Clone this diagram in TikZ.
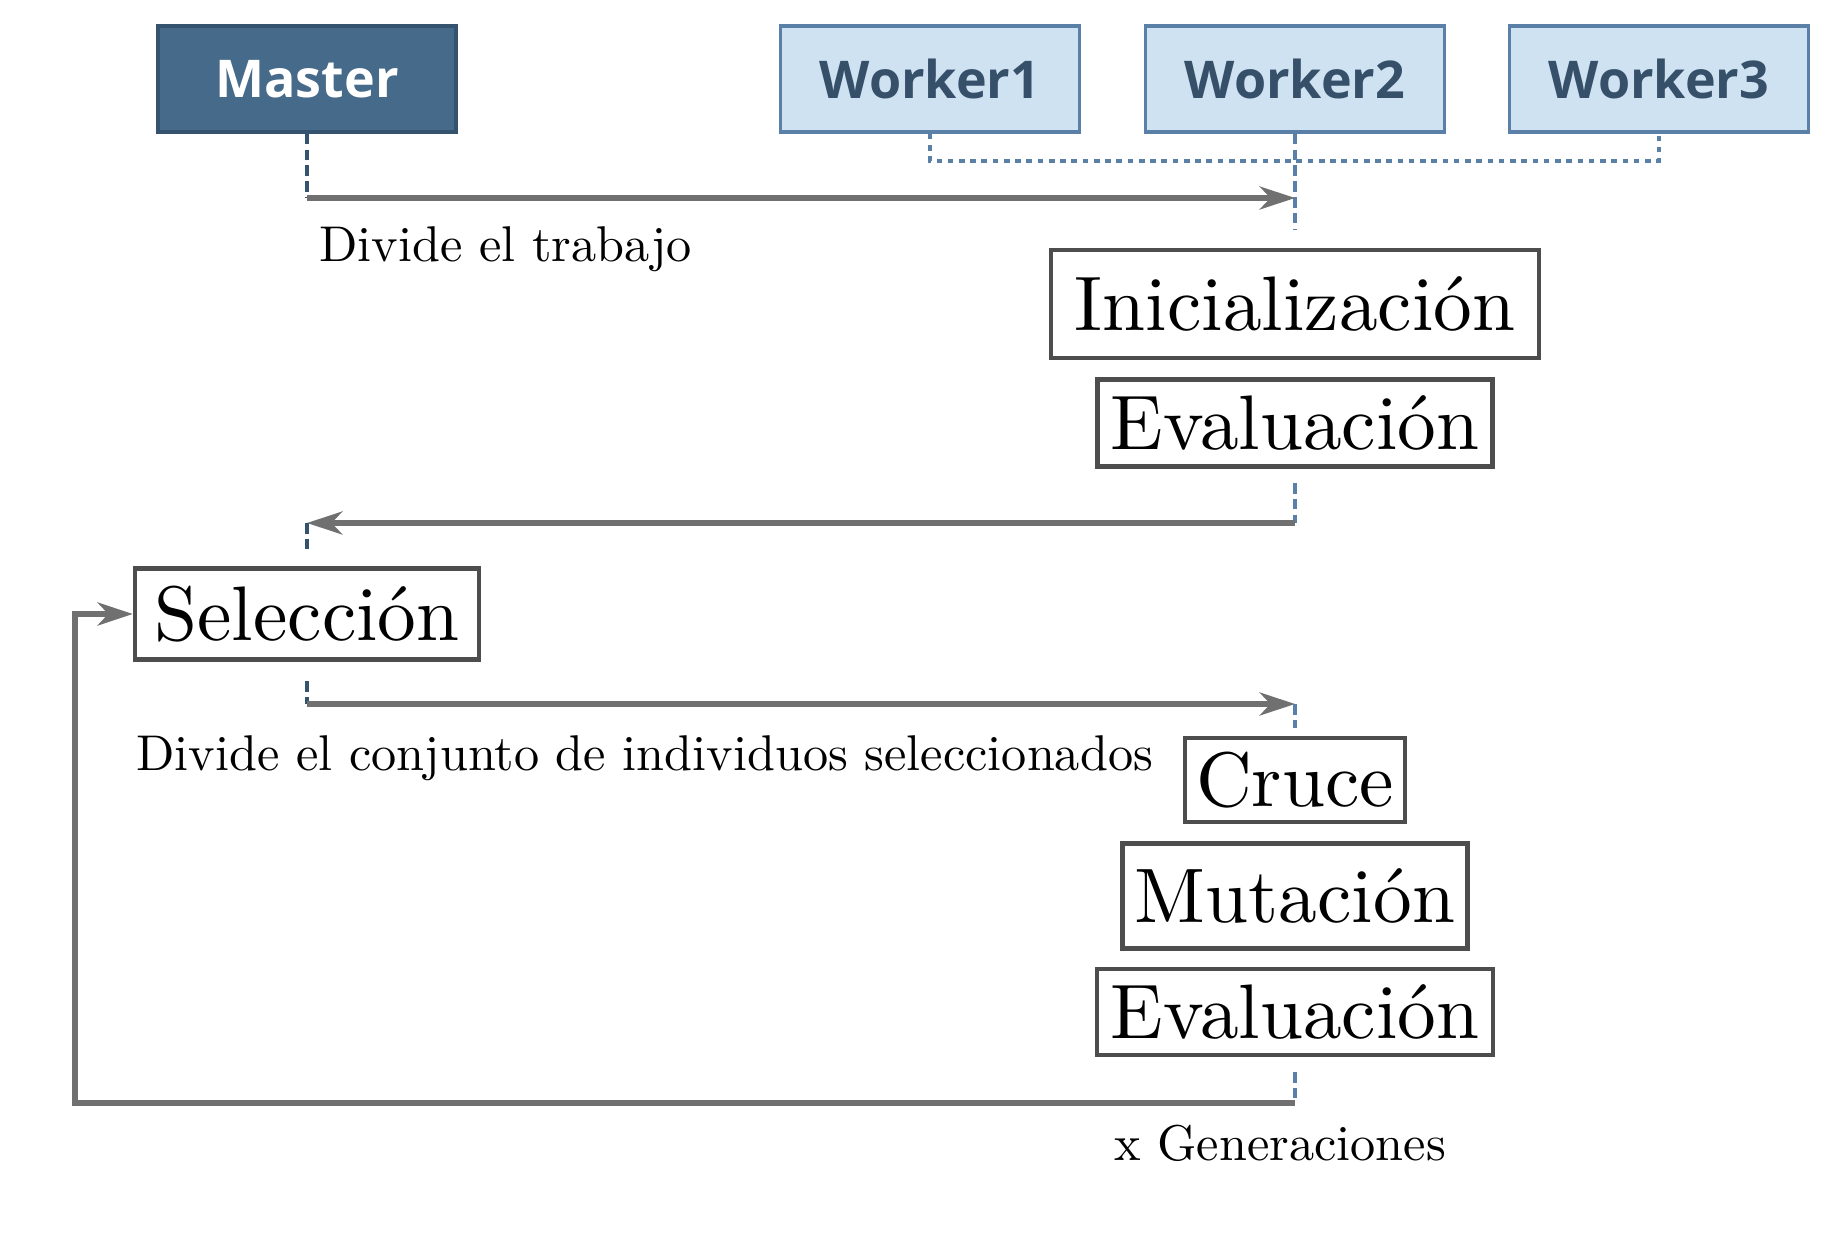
\documentclass[tikz,border=0pt]{standalone}
\usepackage{fontspec}
\setsansfont{Open Sans}
\newfontfamily\lmten{lmroman10-regular.otf}
\usepackage{tikz}
\usetikzlibrary{arrows.meta,positioning}
\usepackage{xcolor}
\definecolor{master}{HTML}{466A8A}
\definecolor{masterline}{HTML}{35526E}
\definecolor{worker}{HTML}{CFE2F2}
\definecolor{workerline}{HTML}{5B80A8}
\definecolor{workertext}{HTML}{37506A}
\definecolor{flow}{HTML}{707070}
\definecolor{boxline}{HTML}{4D4D4D}

\begin{document}
\begin{tikzpicture}[
    proc/.style={draw=boxline,line width=1.2pt,inner sep=2pt,font=\lmten\fontsize{22}{26}\selectfont},
    lane/.style={workerline,line width=1.1pt,dash pattern=on 3pt off 1.5pt},
    msg/.style={flow,line width=1.7pt,-{Stealth[length=10pt,width=6.5pt,inset=3pt]}},
    lbl/.style={font=\lmten\fontsize{14.3}{17}\selectfont}]
  \useasboundingbox (0,0) rectangle (18.47,-12.53);
  % actors
  \node[fill=master,draw=masterline,line width=1pt,minimum width=2.98cm,minimum height=1.06cm,
        text=white,font=\sffamily\bfseries\fontsize{14.8}{18}\selectfont] (master) at (3.07,-0.79) {Master};
  \foreach \i/\x in {1/9.30,2/12.95,3/16.59}
    \node[fill=worker,draw=workerline,line width=1pt,minimum width=2.99cm,minimum height=1.06cm,
          text=workertext,font=\sffamily\bfseries\fontsize{14.8}{18}\selectfont] (w\i) at (\x,-0.79) {Worker\i};
  \draw[workerline,line width=1.3pt,dash pattern=on 1.6pt off 1.6pt] (w1.south) |- (12.95,-1.61) -| (w3.south);
  % reparto inicial
  \coordinate (m0) at (3.07,-1.98);
  \coordinate (w0) at (12.95,-1.98);
  \draw[masterline,line width=1.1pt,dash pattern=on 3pt off 1.5pt] (master.south) -- (m0);
  \draw[lane] (w2.south) -- (12.95,-2.30);
  \draw[msg] (m0) -- (w0);
  \node[lbl,anchor=west] (t1) at (3.07,-2.49) {Divide el trabajo};
  \node[proc,minimum width=4.88cm,minimum height=1.08cm] (ini) at (12.95,-3.04) {Inicialización};
  \node[proc,minimum width=3.95cm,minimum height=0.87cm] (ev1) at (12.95,-4.23) {Evaluación};
  % vuelta al master
  \coordinate (e1) at (12.95,-5.23);
  \coordinate (s0) at (3.07,-5.23);
  \draw[lane] (12.95,-4.83) -- (e1);
  \draw[msg] (e1) -- (s0);
  \draw[masterline,line width=1.1pt,dash pattern=on 3pt off 1.5pt] (s0) -- (3.07,-5.51);
  \node[proc,minimum width=3.44cm,minimum height=0.91cm] (sel) at (3.07,-6.14) {Selección};
  % segundo reparto
  \coordinate (s1) at (3.07,-7.04);
  \coordinate (c0) at (12.95,-7.04);
  \draw[masterline,line width=1.1pt,dash pattern=on 3pt off 1.5pt] (3.07,-6.81) -- (s1);
  \draw[msg] (s1) -- (c0);
  \draw[lane] (c0) -- (12.95,-7.28);
  \node[lbl,anchor=west] (t2) at (1.24,-7.58) {Divide el conjunto de individuos seleccionados};
  \node[proc,minimum width=2.20cm,minimum height=0.84cm] (cru) at (12.95,-7.80) {Cruce};
  \node[proc,minimum width=3.45cm,minimum height=1.05cm] (mut) at (12.95,-8.96) {Mutación};
  \node[proc,minimum width=3.96cm,minimum height=0.86cm] (ev2) at (12.95,-10.12) {Evaluación};
  % bucle
  \coordinate (e2) at (12.95,-11.03);
  \draw[lane] (12.95,-10.72) -- (e2);
  \draw[msg] (e2) -| (0.75,-6.14) -- (sel.west);
  \node[lbl] (t3) at (12.80,-11.43) {x Generaciones};
\end{tikzpicture}
\end{document}
